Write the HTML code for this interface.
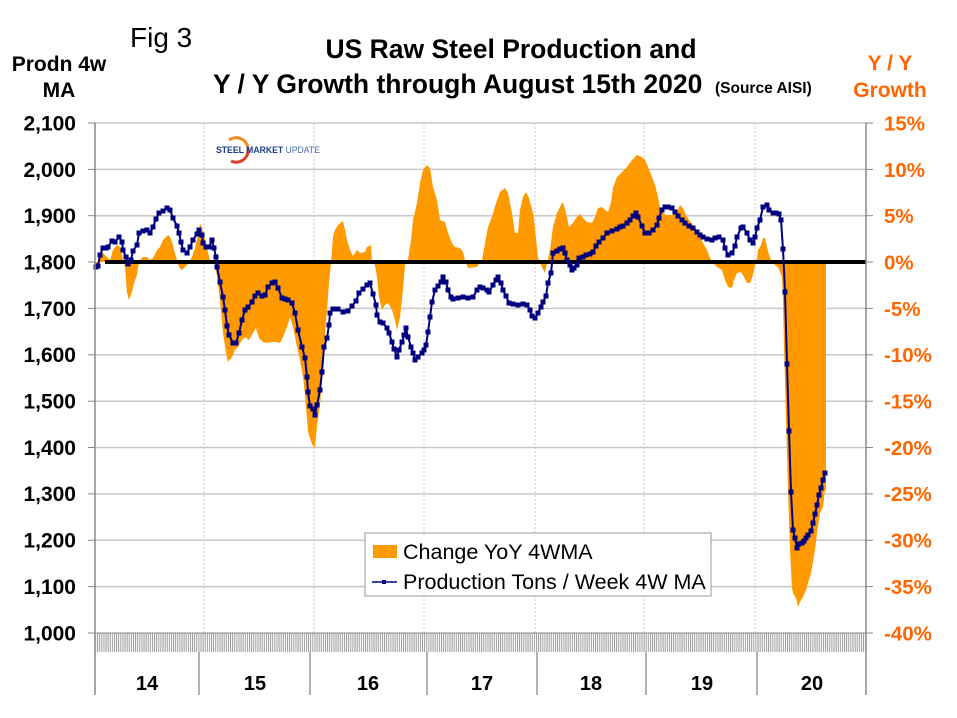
<!DOCTYPE html>
<html><head><meta charset="utf-8"><style>
html,body{margin:0;padding:0;background:#fff;}
svg{display:block;font-family:"Liberation Sans",Arial,sans-serif;}
</style></head><body>
<svg width="957" height="718" viewBox="0 0 957 718" xmlns="http://www.w3.org/2000/svg">
<defs>
<pattern id="hatch" x="95" y="0" width="2.11" height="20" patternUnits="userSpaceOnUse">
<rect x="0" y="0" width="1" height="20" fill="#9a9a9a"/>
</pattern>
<marker id="sq" markerUnits="userSpaceOnUse" markerWidth="5" markerHeight="5" refX="2.5" refY="2.5" viewBox="0 0 5 5">
<rect x="0" y="0" width="5" height="5" fill="#000080"/>
</marker>
</defs>
<rect width="957" height="718" fill="#fff"/>
<!-- titles -->
<text x="130" y="47" font-size="28" fill="#000">Fig 3</text>
<text x="511" y="58" font-size="26.5" font-weight="bold" text-anchor="middle">US Raw Steel Production and</text>
<text x="213" y="93" font-size="26.5" font-weight="bold">Y / Y Growth through August 15th 2020</text>
<text x="715" y="93" font-size="15.5" font-weight="bold">(Source AISI)</text>
<text x="59" y="71" font-size="21" font-weight="bold" text-anchor="middle">Prodn 4w</text>
<text x="59" y="97" font-size="21" font-weight="bold" text-anchor="middle">MA</text>
<text x="890" y="70" font-size="21" font-weight="bold" fill="#ff6600" text-anchor="middle">Y / Y</text>
<text x="890" y="97" font-size="21" font-weight="bold" fill="#ff6600" text-anchor="middle">Growth</text>
<!-- gridlines -->
<g stroke="#c8c8c8" stroke-width="1.5">
<line x1="95" y1="123" x2="866" y2="123"/>
<line x1="95" y1="169.4" x2="866" y2="169.4"/>
<line x1="95" y1="215.7" x2="866" y2="215.7"/>
<line x1="95" y1="308.4" x2="866" y2="308.4"/>
<line x1="95" y1="354.8" x2="866" y2="354.8"/>
<line x1="95" y1="401.2" x2="866" y2="401.2"/>
<line x1="95" y1="447.5" x2="866" y2="447.5"/>
<line x1="95" y1="493.9" x2="866" y2="493.9"/>
<line x1="95" y1="540.3" x2="866" y2="540.3"/>
<line x1="95" y1="586.6" x2="866" y2="586.6"/>
</g>
<g stroke="#c8c8c8" stroke-width="1" stroke-dasharray="2,2">
<line x1="204" y1="123" x2="204" y2="633"/>
<line x1="314" y1="123" x2="314" y2="633"/>
<line x1="424" y1="123" x2="424" y2="633"/>
<line x1="535" y1="123" x2="535" y2="633"/>
<line x1="644" y1="123" x2="644" y2="633"/>
<line x1="755" y1="123" x2="755" y2="633"/>
</g>
<!-- logo -->
<path d="M229,140 A12,12 0 0 1 248,148" fill="none" stroke="#f08a20" stroke-width="3"/>
<path d="M248,148 A12,12 0 0 1 231,161" fill="none" stroke="#d8402a" stroke-width="3"/>
<text x="216" y="153" font-size="9.5" font-weight="bold" fill="#1a3a80" textLength="104" lengthAdjust="spacingAndGlyphs">STEEL <tspan fill="#1e4090">MARKET</tspan> <tspan font-weight="normal" fill="#4a6ab8">UPDATE</tspan></text>
<!-- orange area -->
<polygon fill="#ff9900" points="95,262 95,270 97,268 99,258 100,257 103,253 107,257 110,260 113,250 117,245 120,247 122,255 123,260 125,267 127,293 129,300 132,292 134,283 137,275 138,267 140,260 143,257 147,257 150,260 153,258 157,250 160,247 163,240 167,236 169,235 172,242 174,250 177,260 179,267 182,270 185,267 188,264 192,257 195,248 198,235 200,224 201,225 203,232 206,242 208,253 210,260 213,262 215,265 217,277 220,300 223,333 226,353 228,362 232,357 235,350 238,347 242,340 245,337 249,340 253,333 256,328 259,338 263,342 267,343 272,342 276,342 280,343 283,337 287,327 290,317 293,327 297,347 300,360 303,377 305,395 308,432 312,444 315,448 317,425 320,405 323,367 325,333 327,310 329,283 331,263 333,237 335,230 338,225 343,221 345,230 347,240 350,250 353,256 357,250 360,253 365,252 367,247 371,245 372,262 375,265 377,277 379,297 382,310 385,305 388,303 392,310 395,320 397,330 400,317 403,290 405,265 408,260 411,240 413,220 417,203 420,183 423,170 427,165 430,168 433,187 437,200 440,220 445,222 448,233 452,243 455,247 460,248 463,252 465,260 468,268 477,267 480,262 482,260 485,243 488,227 492,217 496,203 500,192 505,188 508,193 512,213 515,233 518,233 520,210 523,197 526,192 529,198 533,213 535,228 538,258 542,267 545,273 547,263 550,250 553,227 557,213 560,207 563,202 566,213 569,227 573,223 576,218 580,214 583,218 587,222 592,223 595,217 598,208 602,207 605,210 608,212 611,202 613,188 617,177 622,172 627,167 632,160 637,155 642,157 645,160 648,167 652,177 655,185 658,197 660,207 663,213 667,215 672,215 677,212 680,205 683,208 686,215 689,220 693,225 697,230 700,237 703,243 707,250 710,258 713,263 717,267 722,270 725,280 728,287 732,288 734,280 737,273 741,272 744,277 747,283 750,283 753,275 755,265 757,258 758,250 761,245 763,238 765,238 767,247 769,255 772,262 776,266 778,267 780,272 782,277 783,303 784,347 786,420 788,490 790,550 792,588 793,593 796,598 798,607 801,600 803,597 806,590 808,583 811,573 813,562 815,550 817,533 820,513 823,507 825,490 826,490 826,262"/>
<!-- zero line -->
<line x1="105" y1="262" x2="866" y2="262" stroke="#000" stroke-width="4"/>
<!-- production line -->
<polyline fill="none" stroke="#000080" stroke-width="2" stroke-linejoin="round" marker-start="url(#sq)" marker-mid="url(#sq)" marker-end="url(#sq)" points="96,267 98,266 100,255 103,248 106,248 108,247 112,241 115,242 119,237 122,242 123,250 126,257 128,264 131,260 133,251 137,245 139,233 143,231 147,230 150,233 153,227 156,219 159,213 163,211 167,208 170,210 173,218 177,226 179,233 181,242 183,250 187,253 190,247 193,240 197,234 199,230 202,235 203,243 206,247 209,247 212,240 214,248 216,257 217,267 220,282 223,297 225,310 227,326 229,335 233,343 236,343 239,333 242,320 245,310 248,307 252,302 255,296 258,293 262,296 265,295 268,287 272,283 275,282 278,288 282,298 285,299 288,300 292,303 295,313 298,330 302,347 305,358 307,377 308,392 310,406 313,409 315,415 317,405 320,390 322,372 324,347 327,338 329,325 330,313 333,309 338,309 343,312 348,311 352,306 356,301 359,293 363,289 367,285 370,283 373,294 376,305 377,315 380,322 383,323 387,328 389,333 392,342 394,349 397,357 399,350 402,342 404,335 406,328 408,337 411,347 413,353 415,360 418,357 422,353 424,350 426,345 428,332 430,317 432,302 435,290 438,286 441,282 443,277 446,282 448,290 451,297 453,299 458,298 463,297 468,298 473,297 477,290 480,287 483,288 487,290 489,292 493,285 496,280 498,277 501,283 503,290 506,296 509,303 513,304 518,305 523,304 527,305 530,310 532,316 535,318 538,313 541,307 543,302 546,296 548,283 551,273 553,253 557,251 560,249 563,248 565,253 567,260 570,265 572,270 574,268 577,265 579,258 583,257 586,255 590,254 593,252 596,246 599,242 603,238 607,233 612,231 617,229 620,227 623,226 627,223 630,220 633,216 636,213 638,217 642,226 645,233 649,233 653,230 657,225 659,218 662,210 665,207 668,207 672,208 675,212 678,216 682,220 685,223 689,226 693,228 697,232 700,235 703,237 707,239 712,240 715,238 719,237 723,240 725,248 728,255 732,253 735,246 737,237 741,228 743,227 747,233 750,240 753,243 755,237 757,228 760,220 763,207 767,205 769,210 773,213 776,213 779,214 781,220 783,249 785,292 787,364 789,431 791,492 793,530 795,538 797,548 799,544 802,543 804,541 806,538 808,535 811,531 813,523 815,514 817,505 819,495 821,488 823,480 825,473"/>
<!-- axes -->
<line x1="95" y1="123" x2="95" y2="695" stroke="#888" stroke-width="1.5"/>
<line x1="866" y1="123" x2="866" y2="695" stroke="#888" stroke-width="1.5"/>
<rect x="95" y="633" width="771" height="19" fill="url(#hatch)"/>
<line x1="95" y1="633" x2="866" y2="633" stroke="#888" stroke-width="1"/>
<g stroke="#999" stroke-width="1.5">
<line x1="199" y1="652" x2="199" y2="695"/>
<line x1="310" y1="652" x2="310" y2="695"/>
<line x1="427" y1="652" x2="427" y2="695"/>
<line x1="537" y1="652" x2="537" y2="695"/>
<line x1="646" y1="652" x2="646" y2="695"/>
<line x1="757" y1="652" x2="757" y2="695"/>
</g>
<g stroke="#888" stroke-width="1">
<line x1="88" y1="123" x2="95" y2="123"/><line x1="88" y1="169.4" x2="95" y2="169.4"/><line x1="88" y1="215.7" x2="95" y2="215.7"/><line x1="88" y1="262" x2="95" y2="262"/><line x1="88" y1="308.4" x2="95" y2="308.4"/><line x1="88" y1="354.8" x2="95" y2="354.8"/><line x1="88" y1="401.2" x2="95" y2="401.2"/><line x1="88" y1="447.5" x2="95" y2="447.5"/><line x1="88" y1="493.9" x2="95" y2="493.9"/><line x1="88" y1="540.3" x2="95" y2="540.3"/><line x1="88" y1="586.6" x2="95" y2="586.6"/><line x1="88" y1="633" x2="95" y2="633"/>
<line x1="866" y1="123" x2="873" y2="123"/><line x1="866" y1="169.4" x2="873" y2="169.4"/><line x1="866" y1="215.7" x2="873" y2="215.7"/><line x1="866" y1="262" x2="873" y2="262"/><line x1="866" y1="308.4" x2="873" y2="308.4"/><line x1="866" y1="354.8" x2="873" y2="354.8"/><line x1="866" y1="401.2" x2="873" y2="401.2"/><line x1="866" y1="447.5" x2="873" y2="447.5"/><line x1="866" y1="493.9" x2="873" y2="493.9"/><line x1="866" y1="540.3" x2="873" y2="540.3"/><line x1="866" y1="586.6" x2="873" y2="586.6"/><line x1="866" y1="633" x2="873" y2="633"/>
</g>
<!-- left labels -->
<g font-size="21" font-weight="bold" text-anchor="end" fill="#000">
<text x="76" y="130.5">2,100</text><text x="76" y="177">2,000</text><text x="76" y="223">1,900</text><text x="76" y="269.5">1,800</text><text x="76" y="316">1,700</text><text x="76" y="362">1,600</text><text x="76" y="408.5">1,500</text><text x="76" y="455">1,400</text><text x="76" y="501">1,300</text><text x="76" y="547.5">1,200</text><text x="76" y="594">1,100</text><text x="76" y="640.5">1,000</text>
</g>
<!-- right labels -->
<g font-size="20.5" font-weight="bold" fill="#ff6600">
<text x="884" y="130.5">15%</text><text x="884" y="177">10%</text><text x="884" y="223">5%</text><text x="884" y="269.5">0%</text><text x="884" y="316">-5%</text><text x="884" y="362">-10%</text><text x="884" y="408.5">-15%</text><text x="884" y="455">-20%</text><text x="884" y="501">-25%</text><text x="884" y="547.5">-30%</text><text x="884" y="594">-35%</text><text x="884" y="640.5">-40%</text>
</g>
<!-- year labels -->
<g font-size="20" font-weight="bold" text-anchor="middle">
<text x="147" y="690">14</text><text x="255" y="690">15</text><text x="368" y="690">16</text><text x="482" y="690">17</text><text x="591" y="690">18</text><text x="702" y="690">19</text><text x="812" y="690">20</text>
</g>
<!-- legend -->
<rect x="365" y="533" width="346" height="63" fill="#fff" stroke="#999" stroke-width="1"/>
<rect x="373" y="545" width="24" height="13" fill="#ff9900"/>
<text x="403" y="559" font-size="21.5">Change YoY 4WMA</text>
<line x1="372" y1="582" x2="397" y2="582" stroke="#000080" stroke-width="1.5"/>
<rect x="382" y="580" width="4" height="4" fill="#000080"/>
<text x="403" y="589" font-size="21.5">Production Tons / Week 4W MA</text>
</svg>
</body></html>
